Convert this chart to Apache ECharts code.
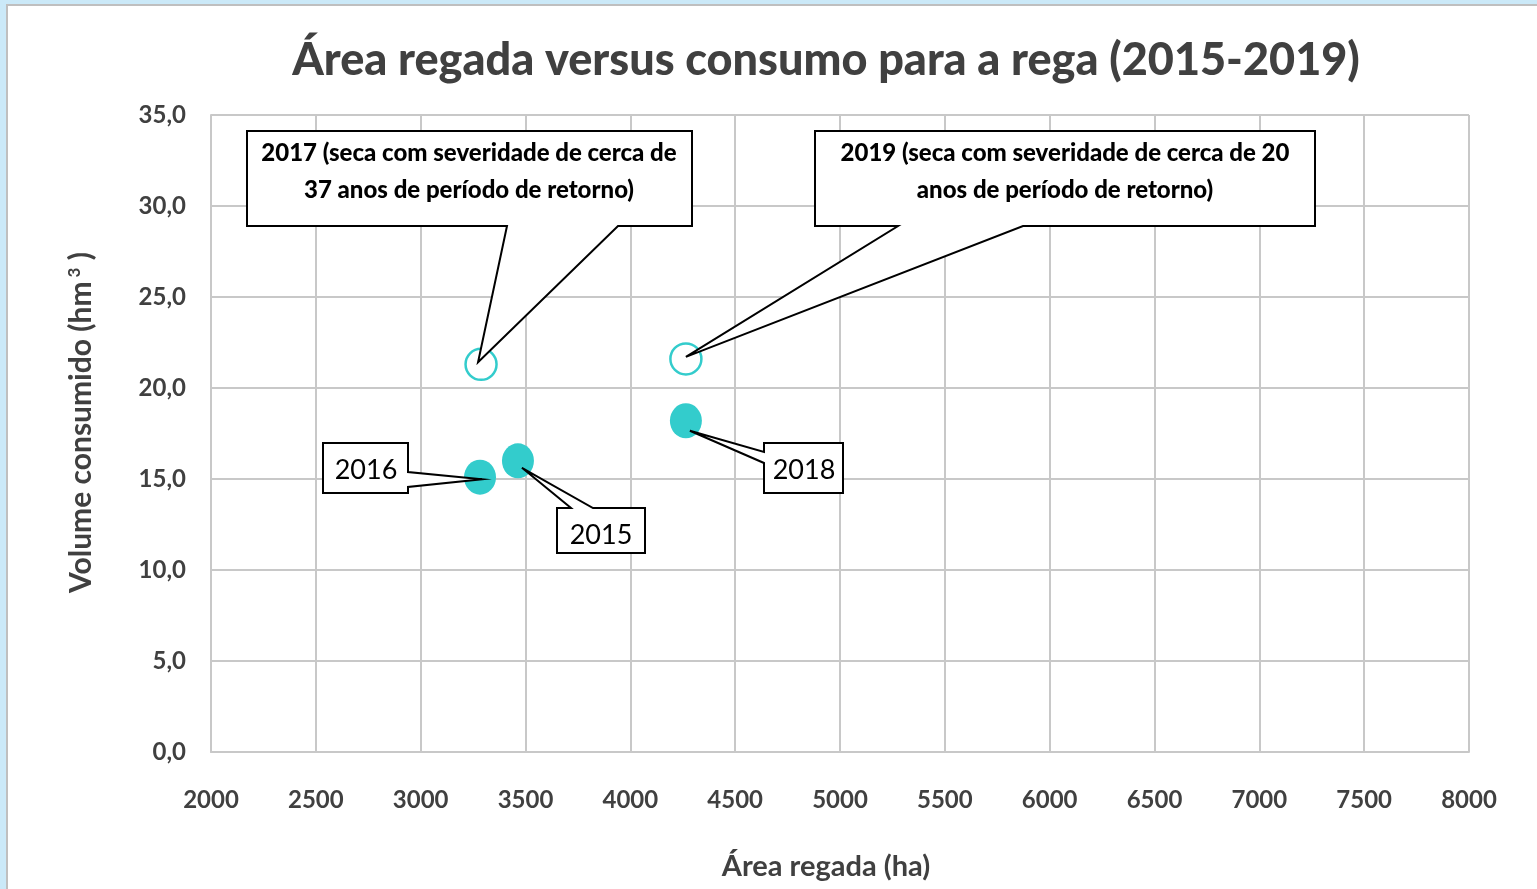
<!DOCTYPE html>
<html>
<head>
<meta charset="utf-8">
<script src="https://cdn.jsdelivr.net/npm/echarts@6/dist/echarts.min.js"></script>
<style>
html,body{margin:0;padding:0;background:#CBE9F8;width:1537px;height:889px;overflow:hidden;}
#frame{position:absolute;left:6px;top:4px;width:1600px;height:1000px;background:#fff;border-left:2px solid #BFBFBF;border-top:2px solid #BFBFBF;}
#chart{position:absolute;left:0;top:0;width:1537px;height:889px;}
</style>
</head>
<body>
<div id="frame"></div>
<div id="chart"></div>
<script>
// ---- data ----
const normalYears = ['2015', '2016', '2018'];
const normalArea = [3464, 3283, 4265];      // ha
const normalVolume = [16.0, 15.1, 18.2];     // hm3
const droughtYears = ['2017', '2019'];
const droughtArea = [3288, 4265];
const droughtVolume = [21.3, 21.6];
const droughtNotes = [
  '2017 (seca com severidade de cerca de\n37 anos de período de retorno)',
  '2019 (seca com severidade de cerca de 20\nanos de período de retorno)'
];
const xTicks = [2000, 2500, 3000, 3500, 4000, 4500, 5000, 5500, 6000, 6500, 7000, 7500, 8000];
const yTicks = [0, 5, 10, 15, 20, 25, 30, 35];

const FONT = 'Lato';
const TXT = '#404040';
const TEAL = '#33CCCC';
const GRIDC = '#C8C8C8';

const chart = echarts.init(document.getElementById('chart'), null, {renderer: 'canvas'});
chart.setOption({
  backgroundColor: 'transparent',
  animation: false,
  title: {
    text: 'Área regada versus consumo para a rega (2015-2019)',
    left: 821, top: 33, textAlign: 'center',
    textStyle: {fontFamily: FONT, fontWeight: 900, fontSize: 45, color: TXT}
  },
  grid: {left: 211, right: 68, top: 115, bottom: 137, outerBoundsMode: 'none', containLabel: false},
  xAxis: {
    type: 'value', min: xTicks[0], max: xTicks[xTicks.length - 1], interval: 500,
    name: 'Área regada (ha)', nameLocation: 'middle', nameGap: 100,
    nameTextStyle: {fontFamily: FONT, fontWeight: 'bold', fontSize: 29, color: TXT, padding: [0, 28, 0, 0]},
    axisLine: {lineStyle: {color: GRIDC, width: 2}},
    axisTick: {show: false},
    axisLabel: {fontFamily: FONT, fontWeight: 'bold', fontSize: 24, color: TXT, margin: 36,
      formatter: v => String(v)},
    splitLine: {lineStyle: {color: GRIDC, width: 2}}
  },
  yAxis: {
    type: 'value', min: yTicks[0], max: yTicks[yTicks.length - 1], interval: 5,
    name: 'Volume consumido (hm{sup|3} )', nameLocation: 'middle', nameGap: 114,
    nameTextStyle: {fontFamily: FONT, fontWeight: 'bold', fontSize: 30, color: TXT, padding: [0, 0, 0, 22],
      rich: {sup: {fontFamily: FONT, fontWeight: 'bold', fontSize: 17, color: TXT, verticalAlign: 'top', padding: [0, 0, 14, 4]}}},
    axisLine: {show: true, lineStyle: {color: GRIDC, width: 2}},
    axisTick: {show: false},
    axisLabel: {fontFamily: FONT, fontWeight: 'bold', fontSize: 24, color: TXT, margin: 25,
      formatter: v => v.toFixed(1).replace('.', ',')},
    splitLine: {lineStyle: {color: GRIDC, width: 2}}
  },
  series: [
    {
      type: 'scatter', name: 'normal',
      data: normalArea.map((a, i) => [a, normalVolume[i]]),
      symbol: 'circle', symbolSize: [32, 35],
      itemStyle: {color: TEAL, opacity: 1}
    },
    {
      type: 'scatter', name: 'seca',
      data: droughtArea.map((a, i) => [a, droughtVolume[i]]),
      symbol: 'circle', symbolSize: 31,
      itemStyle: {color: '#fff', borderColor: TEAL, borderWidth: 2.5, opacity: 1}
    }
  ]
});

// ---- callouts (pointer tips follow the data points) ----
function px(a, v) { return chart.convertToPixel({gridIndex: 0}, [a, v]); }
const graphics = [];
function callout(pts, textX, textY, text, font, lh) {
  graphics.push({
    type: 'polygon', z: 100,
    shape: {points: pts},
    style: {fill: '#fff', stroke: '#000', lineWidth: 2}
  });
  graphics.push({
    type: 'text', z: 101, x: textX, y: textY,
    style: {text: text, fill: '#000', font: font, align: 'center', verticalAlign: 'middle', lineHeight: lh}
  });
}
const boldF = '900 24px ' + FONT;
const regF = '27px ' + FONT;
// 2017
let t = px(droughtArea[0], droughtVolume[0]); t = [t[0] - 3, t[1] - 2];
callout([[247,131],[692,131],[692,226],[618,226],t,[507,226],[247,226]], 469, 172, droughtNotes[0], boldF, 37);
// 2019
t = px(droughtArea[1], droughtVolume[1]); t = [t[0], t[1] - 2];
callout([[815,131],[1315,131],[1315,226],[1023,226],t,[898,226],[815,226]], 1065, 172, droughtNotes[1], boldF, 37);
// 2016
t = px(normalArea[1], normalVolume[1]); t = [t[0] + 2, t[1] + 2];
callout([[323,443],[408,443],[408,472],t,[408,487],[408,493],[323,493]], 366, 470, normalYears[1], regF, 30);
// 2015
t = px(normalArea[0], normalVolume[0]); t = [t[0] + 4, t[1] + 7];
callout([[557,508],[571,508],t,[593,508],[645,508],[645,553],[557,553]], 601, 535, normalYears[0], regF, 30);
// 2018
t = px(normalArea[2], normalVolume[2]); t = [t[0] + 4, t[1] + 10];
callout([[764,443],[843,443],[843,493],[764,493],[764,463],t,[764,452]], 804, 470, normalYears[2], regF, 30);

chart.setOption({graphic: graphics});
</script>
</body>
</html>
